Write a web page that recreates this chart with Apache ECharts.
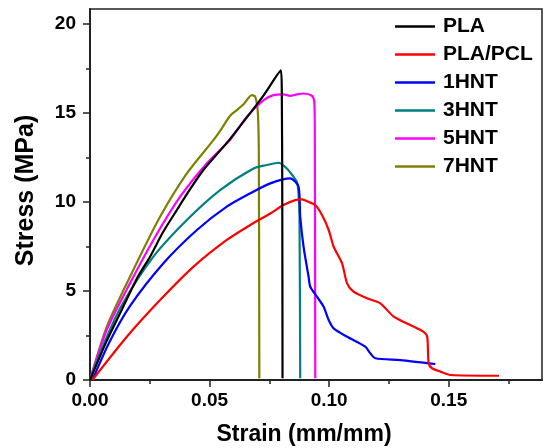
<!DOCTYPE html>
<html>
<head>
<meta charset="utf-8">
<script src="https://cdn.jsdelivr.net/npm/echarts@6/dist/echarts.min.js"></script>
<style>
  html, body { margin: 0; padding: 0; background: #fff; }
  #chart { width: 544px; height: 448px; }
</style>
</head>
<body>
<div id="chart"></div>
<script>
// strain (mm/mm), stress (MPa) pairs
const pla = [[0, 0], [0.007, 2.2], [0.0139, 4.12], [0.02, 5.8], [0.0251, 6.93], [0.0305, 8.3],
  [0.0363, 9.55], [0.042, 10.75], [0.0474, 11.8], [0.0525, 12.6], [0.058, 13.45], [0.0656, 14.76],
  [0.0726, 16.0], [0.0798, 17.4], [0.0802, 16.2], [0.0804, 10], [0.0805, 0.1]]
const plaPcl = [[0.001, 0], [0.0154, 2.43], [0.0293, 4.49], [0.0433, 6.37], [0.0572, 7.87],
  [0.067, 8.71], [0.0754, 9.36], [0.0809, 9.83], [0.0858, 10.11], [0.0886, 10.15], [0.0915, 10.0],
  [0.0942, 9.83], [0.097, 9.27], [0.0998, 8.43], [0.1019, 7.49], [0.1054, 6.55], [0.1075, 5.43],
  [0.1102, 4.96], [0.1158, 4.59], [0.1214, 4.31], [0.127, 3.56], [0.134, 3.09], [0.1395, 2.71],
  [0.141, 2.43], [0.1416, 0.94], [0.143, 0.66], [0.1465, 0.47], [0.1507, 0.28], [0.171, 0.24]]
const hnt1 = [[0.001, 0], [0.008, 2.1], [0.0167, 4.15], [0.0307, 6.56], [0.0447, 8.43], [0.0572, 9.74],
  [0.067, 10.49], [0.0754, 11.05], [0.0837, 11.33], [0.0872, 10.86], [0.0879, 9.17], [0.0893, 7.49],
  [0.0914, 5.8], [0.0921, 5.24], [0.0949, 4.68], [0.0977, 4.12], [0.0998, 3.37], [0.1019, 2.9],
  [0.1075, 2.43], [0.1151, 1.87], [0.1172, 1.5], [0.1193, 1.22], [0.1298, 1.12], [0.1444, 0.9]]
const hnt3 = [[0, 0], [0.006, 2.1], [0.0133, 4.2], [0.0265, 6.93], [0.0405, 8.99], [0.0544, 10.67],
  [0.0684, 11.89], [0.074, 12.08], [0.0788, 12.21], [0.0823, 11.89], [0.0851, 11.42],
  [0.0865, 11.14], [0.0872, 10.49], [0.0876, 9.17], [0.0879, 0.1]]
const hnt5 = [[0, 0], [0.007, 2.81], [0.0167, 5.43], [0.0265, 7.87], [0.0377, 10.3],
  [0.0488, 12.17], [0.0586, 13.5], [0.0656, 14.8], [0.0726, 15.73], [0.0767, 16.01],
  [0.0809, 16.05], [0.0837, 15.97], [0.0865, 16.05], [0.0893, 16.1], [0.0928, 15.97],
  [0.0938, 15.6], [0.094, 14], [0.0942, 0.1]]
const hnt7 = [[0, 0], [0.007, 2.99], [0.0181, 6.18], [0.0293, 9.17], [0.0405, 11.61],
  [0.0516, 13.48], [0.0544, 14.0], [0.0586, 14.85], [0.0614, 15.17], [0.0642, 15.5],
  [0.0677, 16.01], [0.0691, 15.92], [0.0702, 15.0], [0.0706, 12.5], [0.0708, 0.1]]

const names = ['PLA', 'PLA/PCL', '1HNT', '3HNT', '5HNT', '7HNT']
const colors = ['#000000', '#ff0000', '#0000ff', '#008080', '#ff00ff', '#808000']
const curves = [pla, plaPcl, hnt1, hnt3, hnt5, hnt7]

const xMajor = [0, 0.05, 0.1, 0.15]
const xMinor = [0.025, 0.075, 0.125, 0.175]
const yMajor = [0, 5, 10, 15, 20]
const yMinor = [2.5, 7.5, 12.5, 17.5]

const font = "'Liberation Sans', Arial, sans-serif"
const axisColor = '#222'
const xMax = 0.189
const yMax = 20.85

const labelStyle = { fontFamily: font, fontWeight: 'bold', fontSize: 19, color: '#000' }

const chart = echarts.init(document.getElementById('chart'))
chart.setOption({
  animation: false,
  backgroundColor: '#fff',
  grid: {
    left: 90, right: 2, top: 9, bottom: 68,
    show: true, borderColor: axisColor, borderWidth: 1.5,
    outerBoundsMode: 'none'
  },
  legend: {
    data: names,
    orient: 'vertical',
    left: 390, top: 11,
    icon: 'rect',
    itemWidth: 40, itemHeight: 2.5,
    itemGap: 7,
    textStyle: Object.assign({}, labelStyle, { fontSize: 21, padding: [0, 0, 0, 3] })
  },
  xAxis: [{
    type: 'value', min: 0, max: xMax, position: 'bottom',
    axisLine: { show: true, lineStyle: { color: axisColor, width: 2 } },
    axisTick: { show: true, customValues: xMajor, length: 7, lineStyle: { color: axisColor, width: 1.5 } },
    axisLabel: Object.assign({ customValues: xMajor, margin: 11, formatter: v => v.toFixed(2) }, labelStyle),
    splitLine: { show: false },
    name: 'Strain (mm/mm)', nameLocation: 'middle', nameGap: 43,
    nameTextStyle: { fontFamily: font, fontWeight: 'bold', fontSize: 23, color: '#000', padding: [0, 24, 0, 0] }
  }, {
    type: 'value', min: 0, max: xMax, position: 'bottom',
    axisLine: { show: false },
    axisTick: { show: true, customValues: xMinor, length: 4, lineStyle: { color: axisColor, width: 1.5 } },
    axisLabel: { show: false },
    splitLine: { show: false }
  }],
  yAxis: [{
    type: 'value', min: 0, max: yMax, position: 'left',
    axisLine: { show: true, lineStyle: { color: axisColor, width: 2 } },
    axisTick: { show: true, customValues: yMajor, length: 7, lineStyle: { color: axisColor, width: 1.5 } },
    axisLabel: Object.assign({ customValues: yMajor, margin: 14 }, labelStyle),
    splitLine: { show: false },
    name: 'Stress (MPa)', nameLocation: 'middle', nameGap: 51,
    nameTextStyle: { fontFamily: font, fontWeight: 'bold', fontSize: 25, color: '#000', padding: [0, 0, 0, 8] }
  }, {
    type: 'value', min: 0, max: yMax, position: 'left',
    axisLine: { show: false },
    axisTick: { show: true, customValues: yMinor, length: 4, lineStyle: { color: axisColor, width: 1.5 } },
    axisLabel: { show: false },
    splitLine: { show: false }
  }],
  series: curves.map((data, i) => ({
    name: names[i],
    type: 'line',
    data: data,
    showSymbol: false,
    symbol: 'none',
    smooth: 0.25,
    lineStyle: { color: colors[i], width: 2.2 },
    itemStyle: { color: colors[i] },
    z: 10 - i
  }))
})
</script>
</body>
</html>
